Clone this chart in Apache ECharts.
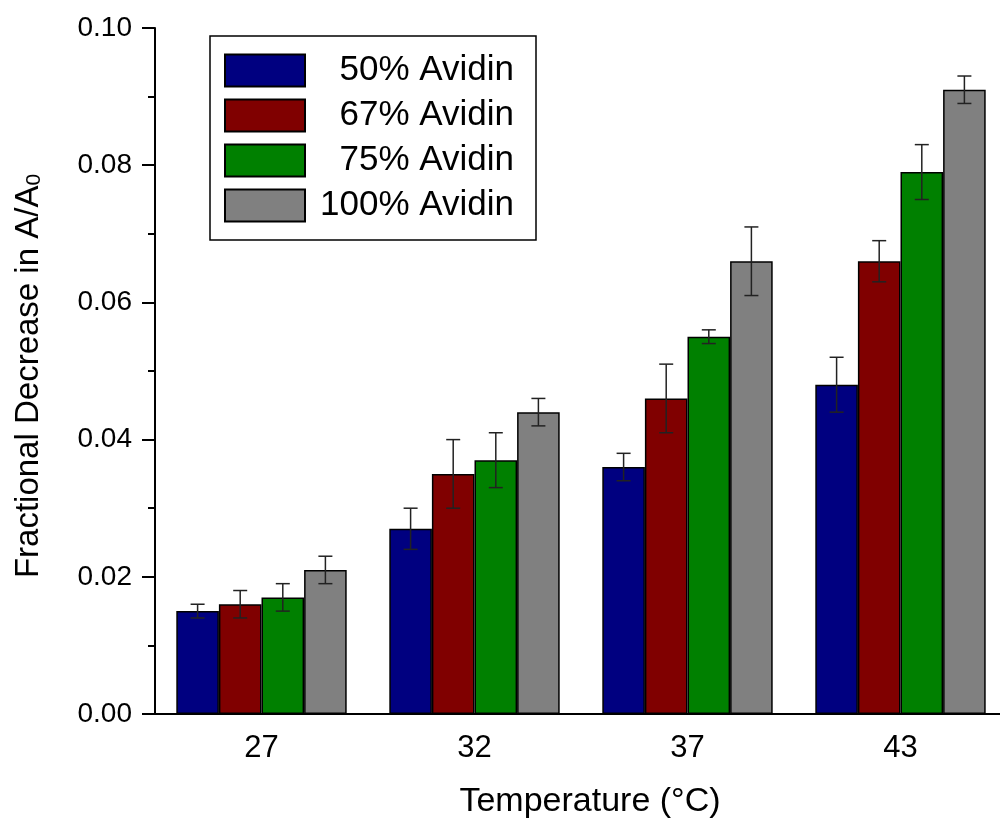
<!DOCTYPE html>
<html>
<head>
<meta charset="utf-8">
<script src="https://cdn.jsdelivr.net/npm/echarts@6/dist/echarts.min.js"></script>
<style>
  html, body { margin: 0; padding: 0; background: #fff; }
  #chart { width: 1000px; height: 823px; }
</style>
</head>
<body>
<div id="chart"></div>
<script>
var temps = ['27', '32', '37', '43'];
var names = ['50% Avidin', '67% Avidin', '75% Avidin', '100% Avidin'];
var colors = ['#000080', '#800000', '#008000', '#808080'];

// mean values
var avidin50 = [0.015, 0.027, 0.036, 0.048];
var avidin67 = [0.016, 0.035, 0.046, 0.066];
var avidin75 = [0.017, 0.037, 0.055, 0.079];
var avidin100 = [0.021, 0.044, 0.066, 0.091];

// half-length of each error bar
var err50 = [0.001, 0.003, 0.002, 0.004];
var err67 = [0.002, 0.005, 0.005, 0.003];
var err75 = [0.002, 0.004, 0.001, 0.004];
var err100 = [0.002, 0.002, 0.005, 0.002];

var yTicks = [0, 0.02, 0.04, 0.06, 0.08, 0.10];

var values = [avidin50, avidin67, avidin75, avidin100];
var errors = [err50, err67, err75, err100];
var font = 'Liberation Sans, Arial, sans-serif';
var catGap = 0.2;

var chart = echarts.init(document.getElementById('chart'));

var series = [];
values.forEach(function (vals, i) {
    series.push({
        name: names[i],
        type: 'bar',
        data: vals,
        barGap: '0%',
        barCategoryGap: '20%',
        itemStyle: { color: colors[i], borderColor: '#000', borderWidth: 1.5 },
        z: 2
    });
});

// error bars drawn next to the matching bar
values.forEach(function (vals, i) {
    var data = vals.map(function (v, j) {
        return [j, v - errors[i][j], v + errors[i][j]];
    });
    series.push({
        type: 'custom',
        data: data,
        z: 5,
        clip: false,
        encode: { x: 0, y: [1, 2] },
        renderItem: function (params, api) {
            var band = api.size([1, 0])[0];
            var bw = band * (1 - catGap) / 4;
            var off = (i - 1.5) * bw;
            var lo = api.coord([api.value(0), api.value(1)]);
            var hi = api.coord([api.value(0), api.value(2)]);
            var x = lo[0] + off;
            var cap = 7;
            var st = { stroke: '#222', lineWidth: 1.5, fill: null };
            return {
                type: 'group',
                children: [
                    { type: 'line', shape: { x1: x, y1: lo[1], x2: x, y2: hi[1] }, style: st },
                    { type: 'line', shape: { x1: x - cap, y1: lo[1], x2: x + cap, y2: lo[1] }, style: st },
                    { type: 'line', shape: { x1: x - cap, y1: hi[1], x2: x + cap, y2: hi[1] }, style: st }
                ]
            };
        }
    });
});

var option = {
    animation: false,
    backgroundColor: '#fff',
    textStyle: { fontFamily: font },
    grid: { left: 155, top: 28, width: 852, bottom: 109, containLabel: false, outerBoundsMode: 'none' },
    legend: {
        data: names,
        orient: 'vertical',
        left: 210,
        top: 36,
        padding: [17, 22, 17, 14],
        itemWidth: 80,
        itemHeight: 32,
        itemGap: 10,
        itemTextGap: 10,
        icon: 'rect',
        borderColor: '#000',
        borderWidth: 1.5,
        selectedMode: false,
        formatter: '{t|{name}}',
        textStyle: {
            rich: {
                t: { width: 204, align: 'right', fontSize: 35, lineHeight: 32, color: '#000', fontFamily: font }
            }
        }
    },
    xAxis: {
        type: 'category',
        data: temps,
        name: 'Temperature (°C)',
        nameLocation: 'middle',
        nameGap: 71,
        nameTextStyle: { fontSize: 34, color: '#000', verticalAlign: 'top', padding: [0, 0, 0, 18] },
        axisLine: { lineStyle: { color: '#000', width: 2 } },
        axisTick: { show: false },
        axisLabel: { fontSize: 31, color: '#000', margin: 19 }
    },
    yAxis: {
        type: 'value',
        min: 0,
        max: 0.1,
        interval: 0.02,
        name: 'Fractional Decrease in A/A{s|0}',
        nameLocation: 'middle',
        nameGap: 110,
        nameTextStyle: {
            fontSize: 33,
            color: '#000',
            padding: [0, 10, 0, 0],
            rich: {
                s: { fontSize: 21, verticalAlign: 'bottom', padding: [12, 0, 0, 0], color: '#000' }
            }
        },
        axisLine: { show: true, lineStyle: { color: '#000', width: 2 } },
        axisTick: { show: true, inside: false, length: 13, lineStyle: { color: '#000', width: 2 } },
        minorTick: { show: true, splitNumber: 2, length: 7, lineStyle: { color: '#000', width: 2 } },
        splitLine: { show: false },
        axisLabel: {
            fontSize: 28,
            color: '#000',
            margin: 23,
            formatter: function (v) {
                var hit = yTicks.filter(function (t) { return Math.abs(t - v) < 1e-9; });
                return hit.length ? hit[0].toFixed(2) : '';
            }
        }
    },
    series: series
};

chart.setOption(option);
</script>
</body>
</html>
